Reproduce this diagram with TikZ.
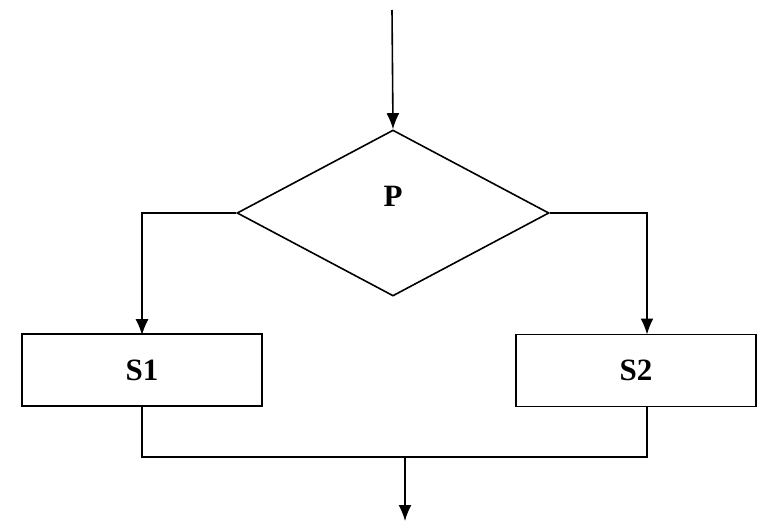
\documentclass[tikz,border=0pt]{standalone}
\usepackage{fontspec}
\setmainfont{Liberation Serif}
\usetikzlibrary{shapes.geometric,arrows.meta}
\begin{document}
\begin{tikzpicture}[x=1pt,y=-1pt,
  line width=1.6pt,
  arr/.style={-{Latex[length=16pt,width=13pt]}},
  lbl/.style={font=\fontsize{31}{33}\selectfont\bfseries},
  box/.style={draw,rectangle,minimum width=240pt,minimum height=72pt,inner sep=0pt,lbl},
  dec/.style={draw,diamond,minimum width=312pt,minimum height=166pt,inner sep=0pt}]
\useasboundingbox (0,0) rectangle (759,528);
\coordinate (start) at (392,10);
\node[dec] (P) at (393,213) {};
\node[lbl] (Plabel) at (393,196) {P};
\node[box] (S1) at (142,370) {S1};
\node[box] (S2) at (636,370.5) {S2};
\coordinate (S2in) at (647,334.5);
\coordinate (S2out) at (647,406.5);
\coordinate (join) at (405,457);
\coordinate (end) at (405,521);
\draw[arr] (start) -- (P.north);
\draw[arr] (P.west) -| ([yshift=-2pt]S1.north);
\draw[arr] (P.east) -| (S2in);
\draw (S1.south) |- (join) -| (S2out);
\draw[arr] (join) -- (end);
\end{tikzpicture}
\end{document}
